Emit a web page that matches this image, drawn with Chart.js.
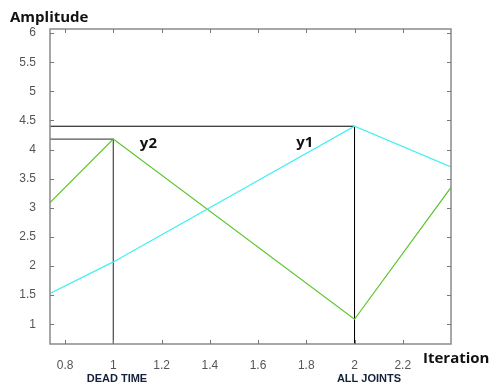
<!DOCTYPE html>
<html>
<head>
<meta charset="utf-8">
<script src="https://cdn.jsdelivr.net/npm/chart.js@4/dist/chart.umd.min.js"></script>
<style>
  html, body { margin: 0; padding: 0; background: #fff; }
  #wrap { width: 491px; height: 387px; position: relative; }
</style>
</head>
<body>
<div id="wrap"><canvas id="myChart"></canvas></div>
<script>
// data
const xTicks = [0.8, 1, 1.2, 1.4, 1.6, 1.8, 2, 2.2];
const yTicks = [1, 1.5, 2, 2.5, 3, 3.5, 4, 4.5, 5, 5.5, 6];
const xRange = [0.7375, 2.4];
const yRange = [0.66, 6.07];

const iterX = [0.7375, 1, 2, 2.4];
const y1Vals = [1.53, 2.07, 4.40, 3.70];   // cyan
const y2Vals = [3.09, 4.18, 1.085, 3.35];  // green

// guide lines (level reached at each iteration)
const y2Mark = { x: 1, y: 4.18 };
const y1Mark = { x: 2, y: 4.40 };

const pts = (xs, ys) => xs.map((x, i) => ({ x: x, y: ys[i] }));

const guide = (m) => [
  { x: xRange[0], y: m.y },
  { x: m.x, y: m.y },
  { x: m.x, y: yRange[0] }
];

const textLabels = [
  { text: 'y2', x: 1.11, y: 4.03 },
  { text: 'y1', x: 1.758, y: 4.04 }
];
const bottomLabels = [
  { text: 'DEAD TIME', x: 1.015 },
  { text: 'ALL JOINTS', x: 2.06 }
];

const frame = {
  id: 'frame',
  afterDraw(chart) {
    const ctx = chart.ctx;
    const a = chart.chartArea;
    const xs = chart.scales.x, ys = chart.scales.y;
    ctx.save();
    // box
    ctx.strokeStyle = '#8a8a8a';
    ctx.lineWidth = 1.5;
    ctx.strokeRect(a.left, a.top, a.right - a.left, a.bottom - a.top);
    // inward ticks
    ctx.strokeStyle = '#777';
    ctx.lineWidth = 1;
    ctx.beginPath();
    xs.ticks.forEach(t => {
      const px = Math.round(xs.getPixelForValue(t.value)) + 0.5;
      ctx.moveTo(px, a.bottom); ctx.lineTo(px, a.bottom - 4);
      ctx.moveTo(px, a.top); ctx.lineTo(px, a.top + 4);
    });
    ys.ticks.forEach(t => {
      const py = Math.round(ys.getPixelForValue(t.value)) + 0.5;
      ctx.moveTo(a.left, py); ctx.lineTo(a.left + 4, py);
      ctx.moveTo(a.right, py); ctx.lineTo(a.right - 4, py);
    });
    ctx.stroke();

    // annotations
    ctx.textBaseline = 'alphabetic';
    ctx.font = 'bold 15px "Open Sans", sans-serif';
    ctx.fillStyle = '#111';
    ctx.textAlign = 'left';
    textLabels.forEach(l => {
      ctx.fillText(l.text, xs.getPixelForValue(l.x), ys.getPixelForValue(l.y));
    });
    ctx.font = 'bold 11px "Liberation Sans Narrow", "Liberation Sans", sans-serif';
    ctx.fillStyle = '#15213a';
    ctx.textAlign = 'center';
    bottomLabels.forEach(l => {
      ctx.fillText(l.text, xs.getPixelForValue(l.x), 382);
    });

    ctx.font = 'bold 15px "Open Sans", sans-serif';
    ctx.fillStyle = '#111';
    ctx.textAlign = 'left';
    ctx.fillText('Amplitude', 10, 22);
    ctx.fillText('Iteration', 423, 363);
    ctx.restore();
  }
};

const tickFont = { family: '"Liberation Sans", Arial', size: 12 };

const config = {
  type: 'scatter',
  data: {
    datasets: [
      { data: pts(iterX, y1Vals), showLine: true, borderColor: '#3ff0f4', borderWidth: 1.2, pointRadius: 0 },
      { data: pts(iterX, y2Vals), showLine: true, borderColor: '#5cc62a', borderWidth: 1.2, pointRadius: 0 },
      { data: guide(y2Mark), showLine: true, borderColor: '#555', borderWidth: 1.3, pointRadius: 0 },
      { data: guide(y1Mark), showLine: true, borderColor: '#000', borderWidth: 1, pointRadius: 0 }
    ]
  },
  options: {
    responsive: true,
    maintainAspectRatio: false,
    animation: false,
    layout: { padding: { left: 0, top: 29, right: 40, bottom: 0 } },
    plugins: { legend: { display: false }, tooltip: { enabled: false } },
    scales: {
      x: {
        type: 'linear',
        min: xRange[0], max: xRange[1],
        afterBuildTicks: s => { s.ticks = xTicks.map(v => ({ value: v })); },
        afterFit: s => { s.height = 43; },
        grid: { display: false },
        border: { display: false },
        ticks: { color: '#555', font: tickFont, padding: 6, maxRotation: 0, callback: v => String(v) }
      },
      y: {
        type: 'linear',
        min: yRange[0], max: yRange[1],
        afterBuildTicks: s => { s.ticks = yTicks.map(v => ({ value: v })); },
        afterFit: s => { s.width = 50; },
        grid: { display: false },
        border: { display: false },
        ticks: { color: '#555', font: tickFont, padding: 6, callback: v => String(v) }
      }
    }
  },
  plugins: [frame]
};

const myChart = new Chart(document.getElementById('myChart'), config);
</script>
</body>
</html>
